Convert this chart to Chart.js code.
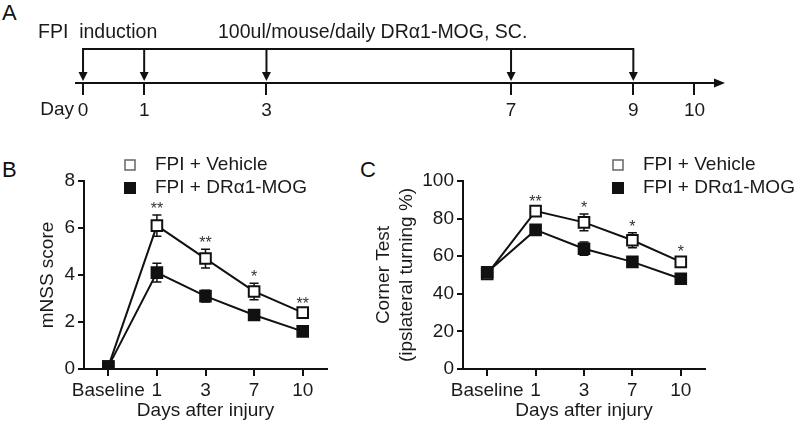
<!DOCTYPE html>
<html>
<head>
<meta charset="utf-8">
<script src="https://cdn.jsdelivr.net/npm/chart.js@4.4.0/dist/chart.umd.min.js"></script>
<style>
  html, body { margin: 0; padding: 0; background: #fff; }
  body { width: 800px; height: 422px; position: relative; overflow: hidden; font-family: 'Liberation Sans', Arial, sans-serif; }
  canvas { position: absolute; }
  .panel { position: absolute; font-size: 22px; line-height: 1; color: #111; }
</style>
</head>
<body>
<div class="panel" style="left:2px;top:2px">A</div>
<div class="panel" style="left:2px;top:159px">B</div>
<div class="panel" style="left:360px;top:159px">C</div>
<canvas id="timeline" width="800" height="130" style="left:0;top:0"></canvas>
<canvas id="mnssChart" width="350" height="282" style="left:0;top:140px"></canvas>
<canvas id="cornerChart" width="450" height="282" style="left:350px;top:140px"></canvas>
<script>
// timeline (panel A)
const timelineTicks = [0, 1, 3, 7, 9, 10];
const injectionDays = [0, 1, 3, 7, 9];

// panels B and C
const xLabels = ['Baseline', '1', '3', '7', '10'];
const seriesNames = ['FPI + Vehicle', 'FPI + DRα1-MOG'];

const mnssVehicle = [0.1, 6.1, 4.7, 3.3, 2.4];
const mnssVehicleErr = [0.1, 0.45, 0.4, 0.35, 0.1];
const mnssDrMog = [0.1, 4.1, 3.1, 2.3, 1.6];
const mnssDrMogErr = [0.1, 0.4, 0.25, 0.15, 0.1];
const mnssStars = ['', '**', '**', '*', '**'];

const cornerVehicle = [50.5, 84, 78, 68.5, 57];
const cornerVehicleErr = [1, 1.5, 4.5, 4, 2];
const cornerDrMog = [51.5, 74, 64, 57, 48];
const cornerDrMogErr = [1, 1.5, 3.5, 1.5, 2.5];
const cornerStars = ['', '**', '*', '*', '*'];

const INK = '#111';
const FAMILY = "'Liberation Sans', Arial, sans-serif";
Chart.defaults.font.family = FAMILY;
Chart.defaults.color = '#1a1a1a';

// arrows + text for the treatment timeline
const timelineArrows = {
  id: 'timelineArrows',
  afterDraw(chart) {
    const {ctx, chartArea} = chart;
    const pts = chart.getDatasetMeta(0).data;
    const top = 49, tip = 81;
    ctx.save();
    ctx.strokeStyle = INK;
    ctx.fillStyle = INK;
    ctx.lineWidth = 2;
    ctx.beginPath();
    ctx.moveTo(pts[0].x, top);
    ctx.lineTo(pts[pts.length - 1].x, top);
    ctx.stroke();
    pts.forEach(p => {
      ctx.beginPath();
      ctx.moveTo(p.x, top - 1);
      ctx.lineTo(p.x, tip - 7);
      ctx.stroke();
      ctx.beginPath();
      ctx.moveTo(p.x - 4.5, tip - 9);
      ctx.lineTo(p.x + 4.5, tip - 9);
      ctx.lineTo(p.x, tip);
      ctx.closePath();
      ctx.fill();
    });
    const y0 = chartArea.bottom;
    ctx.beginPath();
    ctx.moveTo(chartArea.right + 3, y0);
    ctx.lineTo(chartArea.right - 8, y0 - 4.5);
    ctx.lineTo(chartArea.right - 8, y0 + 4.5);
    ctx.closePath();
    ctx.fill();

    ctx.font = '19.5px ' + FAMILY;
    ctx.textBaseline = 'middle';
    ctx.fillStyle = '#1a1a1a';
    ctx.fillText('FPI  induction', 38, 33);
    ctx.fillText('100ul/mouse/daily DRα1-MOG, SC.', 218, 33);
    ctx.font = '19px ' + FAMILY;
    ctx.textAlign = 'right';
    ctx.fillText('Day', chart.scales.x.getPixelForValue(0) - 9, 110);
    ctx.restore();
  }
};

new Chart(document.getElementById('timeline'), {
  type: 'scatter',
  data: {
    datasets: [{
      data: injectionDays.map(d => ({x: d, y: 1})),
      pointRadius: 0,
      showLine: false
    }]
  },
  options: {
    responsive: false,
    animation: false,
    layout: { padding: { left: 76, right: 78, top: 0, bottom: 0 } },
    plugins: { legend: { display: false }, tooltip: { enabled: false } },
    scales: {
      x: {
        type: 'linear',
        min: -0.115,
        max: 10.45,
        afterBuildTicks: s => { s.ticks = timelineTicks.map(v => ({ value: v })); },
        afterFit: s => { s.height = 47; },
        grid: { drawOnChartArea: false, tickLength: 12, color: INK, lineWidth: 2 },
        border: { color: INK, width: 2 },
        ticks: { color: '#1a1a1a', font: { size: 19 }, padding: 4, maxRotation: 0, autoSkip: false }
      },
      y: { display: false, min: 0, max: 2 }
    }
  },
  plugins: [timelineArrows]
});

// error bars under the markers
const errorBars = {
  id: 'errorBars',
  beforeDatasetsDraw(chart) {
    const {ctx, scales: {y}} = chart;
    ctx.save();
    ctx.strokeStyle = INK;
    ctx.lineWidth = 1.5;
    chart.data.datasets.forEach((ds, di) => {
      const pts = chart.getDatasetMeta(di).data;
      ds.errors.forEach((e, i) => {
        const px = pts[i].x;
        const t = y.getPixelForValue(ds.data[i] + e);
        const b = y.getPixelForValue(ds.data[i] - e);
        ctx.beginPath();
        ctx.moveTo(px, t); ctx.lineTo(px, b);
        ctx.moveTo(px - 4.5, t); ctx.lineTo(px + 4.5, t);
        ctx.moveTo(px - 4.5, b); ctx.lineTo(px + 4.5, b);
        ctx.stroke();
      });
    });
    ctx.restore();
  }
};

// significance asterisks
const sigStars = {
  id: 'sigStars',
  afterDatasetsDraw(chart, args, opts) {
    const {ctx, scales: {y}} = chart;
    const dsets = chart.data.datasets;
    const pts = chart.getDatasetMeta(0).data;
    ctx.save();
    ctx.font = '16px ' + FAMILY;
    ctx.textAlign = 'center';
    ctx.textBaseline = 'alphabetic';
    ctx.fillStyle = '#333';
    opts.labels.forEach((lab, i) => {
      if (!lab) return;
      const top = Math.max(...dsets.map(d => d.data[i] + d.errors[i]));
      ctx.fillText(lab, pts[i].x, y.getPixelForValue(top) - 1);
    });
    ctx.restore();
  }
};

// legend with square markers
const seriesLegend = {
  id: 'seriesLegend',
  afterDraw(chart, args, opts) {
    const {ctx} = chart;
    ctx.save();
    ctx.font = '19px ' + FAMILY;
    ctx.textBaseline = 'middle';
    chart.data.datasets.forEach((ds, i) => {
      const cy = opts.top + i * opts.gap;
      const s = 10;
      if (i === 0) {
        ctx.strokeStyle = '#666';
        ctx.lineWidth = 1.5;
        ctx.strokeRect(opts.left - s / 2, cy - s / 2, s, s);
      } else {
        ctx.fillStyle = INK;
        ctx.fillRect(opts.left - s / 2 - 1, cy - s / 2 - 1, s + 2, s + 2);
      }
      ctx.fillStyle = '#1a1a1a';
      ctx.fillText(ds.label, opts.left + opts.textOffset, cy);
    });
    ctx.restore();
  }
};

function renderPanel(id, cfg) {
  const series = [
    { data: cfg.vehicle, errors: cfg.vehicleErr, fill: '#fff', order: 1 },
    { data: cfg.drmog, errors: cfg.drmogErr, fill: INK, order: 0 }
  ];
  new Chart(document.getElementById(id), {
    type: 'line',
    data: {
      labels: xLabels,
      datasets: series.map((s, i) => ({
        label: seriesNames[i],
        data: s.data,
        errors: s.errors,
        order: s.order,
        borderColor: INK,
        borderWidth: 2,
        backgroundColor: s.fill,
        pointStyle: 'rect',
        pointRadius: 7.5,
        pointBorderWidth: 2,
        pointBorderColor: INK,
        pointBackgroundColor: s.fill,
        tension: 0
      }))
    },
    options: {
      responsive: false,
      animation: false,
      layout: { padding: { left: 0, top: 41, right: cfg.padRight, bottom: 0 } },
      plugins: {
        legend: { display: false },
        tooltip: { enabled: false },
        sigStars: { labels: cfg.stars },
        seriesLegend: cfg.legend
      },
      scales: {
        x: {
          type: 'category',
          offset: true,
          afterFit: s => { s.height = 53; },
          grid: { drawOnChartArea: false, tickLength: 7, color: INK, lineWidth: 2 },
          border: { color: INK, width: 2 },
          ticks: { font: { size: 19 }, padding: 3, maxRotation: 0, autoSkip: false },
          title: { display: true, text: 'Days after injury', font: { size: 19 }, padding: { top: 0, bottom: 0 } }
        },
        y: {
          min: cfg.yMin,
          max: cfg.yMax,
          afterFit: s => { s.width = cfg.yWidth; },
          afterBuildTicks: s => { s.ticks = cfg.yTicks.map(v => ({ value: v })); },
          grid: { drawOnChartArea: false, tickLength: 6, color: INK, lineWidth: 2 },
          border: { color: INK, width: 2 },
          ticks: { font: { size: 19 }, padding: 3 },
          title: { display: true, text: cfg.yTitle, font: { size: 19, lineHeight: 1.21 }, padding: { top: cfg.titlePad, bottom: 0 } }
        }
      }
    },
    plugins: [errorBars, sigStars, seriesLegend]
  });
}

renderPanel('mnssChart', {
  vehicle: mnssVehicle, vehicleErr: mnssVehicleErr,
  drmog: mnssDrMog, drmogErr: mnssDrMogErr,
  stars: mnssStars,
  yMin: 0, yMax: 8, yTicks: [0, 2, 4, 6, 8],
  yTitle: 'mNSS score', yWidth: 84, titlePad: 36, padRight: 23,
  legend: { left: 130, top: 25, gap: 23, textOffset: 25 }
});

renderPanel('cornerChart', {
  vehicle: cornerVehicle, vehicleErr: cornerVehicleErr,
  drmog: cornerDrMog, drmogErr: cornerDrMogErr,
  stars: cornerStars,
  yMin: 0, yMax: 100, yTicks: [0, 20, 40, 60, 80, 100],
  yTitle: ['Corner Test', '(ipslateral turning %)'], yWidth: 113, titlePad: 22, padRight: 95,
  legend: { left: 268, top: 25, gap: 23, textOffset: 25 }
});
</script>
</body>
</html>
